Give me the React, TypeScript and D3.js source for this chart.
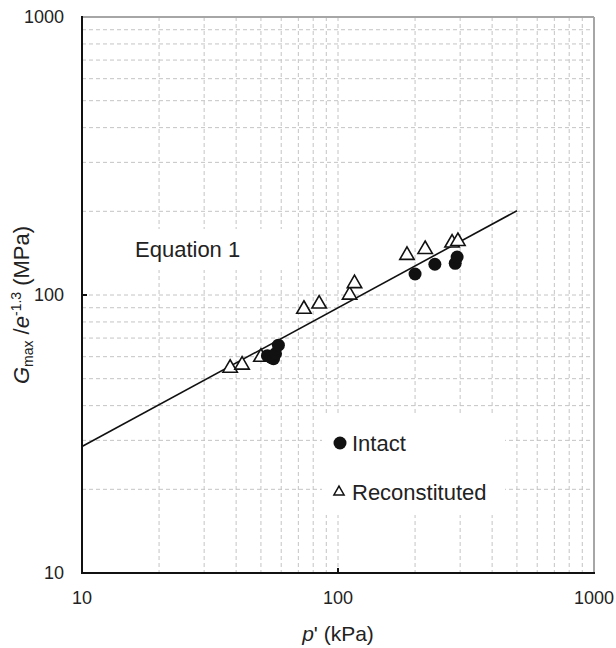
import * as d3 from 'd3';

// Intact specimens
const intactP = [53, 55, 56, 57, 58.5, 200, 239, 287, 292];
const intactG = [60.5, 59.5, 59, 61.5, 66, 119, 129, 130, 137];

// Reconstituted specimens
const reconP = [37.9, 42.2, 50, 73.6, 84.4, 111, 116, 186, 219, 279, 294];
const reconG = [54.6, 56, 59.8, 89, 92.9, 100, 110, 139, 146, 154, 156];

// Equation 1 line end points
const lineP = [10, 500];
const lineG = [28.5, 201];

const xTicks = [10, 100, 1000];
const yTicks = [10, 100, 1000];

export default function App() {
  const width = 616;
  const height = 648;
  const left = 82;
  const right = 594;
  const top = 17;
  const bottom = 573;

  const x = d3.scaleLog().domain([10, 1000]).range([left, right]);
  const y = d3.scaleLog().domain([10, 1000]).range([bottom, top]);

  const line = d3.line<number>()
    .x((d, i) => x(lineP[i]))
    .y(d => y(d));

  const tri = d3.symbol().type(d3.symbolTriangle).size(90)();
  const triSmall = d3.symbol().type(d3.symbolTriangle).size(45)();

  const grid = '#c4c4c4';
  const font = 'Liberation Sans, Arial, sans-serif';

  return (
    <svg width={width} height={height} style={{ position: 'absolute', left: 0, top: 0 }} fontFamily={font}>
      <rect width={width} height={height} fill="white" />
      {/* gridlines */}
      {x.ticks().filter(t => t > 10 && t < 1000).map(t => (
        <line key={'gx' + t} x1={x(t)} x2={x(t)} y1={top} y2={bottom} stroke={grid} strokeDasharray="4,3" strokeWidth={1} />
      ))}
      {y.ticks().filter(t => t > 10 && t < 1000).map(t => (
        <line key={'gy' + t} x1={left} x2={right} y1={y(t)} y2={y(t)} stroke={grid} strokeDasharray="4,3" strokeWidth={1} />
      ))}
      {/* label backgrounds */}
      <rect x={120} y={229} width={170} height={41} fill="white" />
      <rect x={322} y={413} width={183} height={102} fill="white" />

      {/* border */}
      <line x1={left} x2={right} y1={top} y2={top} stroke="#a6a6a6" strokeWidth={2} />
      <line x1={right} x2={right} y1={top} y2={bottom} stroke="#a6a6a6" strokeWidth={2} />
      <line x1={left} x2={left} y1={top - 1} y2={bottom + 1} stroke="#111" strokeWidth={2} />
      <line x1={left - 1} x2={right + 1} y1={bottom} y2={bottom} stroke="#111" strokeWidth={2} />
      {xTicks.filter(t => t > 10 && t < 1000).map(t => (
        <line key={'tx' + t} x1={x(t)} x2={x(t)} y1={bottom} y2={bottom - 5} stroke="#111" strokeWidth={2} />
      ))}
      {yTicks.filter(t => t > 10 && t < 1000).map(t => (
        <line key={'ty' + t} x1={left} x2={left + 5} y1={y(t)} y2={y(t)} stroke="#111" strokeWidth={2} />
      ))}

      {/* tick labels */}
      {xTicks.map(t => (
        <text key={'lx' + t} x={x(t)} y={598} textAnchor="middle" dominantBaseline="central" fontSize={18} fill="#222">{t}</text>
      ))}
      {yTicks.map(t => (
        <text key={'ly' + t} x={64} y={y(t)} textAnchor="end" dominantBaseline="central" fontSize={18} fill="#222">{t}</text>
      ))}

      {/* axis titles */}
      <text x={(left + right) / 2} y={641} textAnchor="middle" fontSize={21} fill="#222">
        <tspan fontStyle="italic">p</tspan>' (kPa)
      </text>
      <text transform="translate(29,305) rotate(-90)" textAnchor="middle" fontSize={22} fill="#222">
        <tspan fontStyle="italic">G</tspan>
        <tspan fontSize={14} dy={4}>max</tspan>
        <tspan dy={-4}> /</tspan>
        <tspan fontStyle="italic">e</tspan>
        <tspan fontSize={14} dy={-8}>-1.3</tspan>
        <tspan dy={8}> (MPa)</tspan>
      </text>

      {/* Equation 1 line */}
      <path d={line(lineG) ?? ''} fill="none" stroke="#111" strokeWidth={1.6} />
      <text x={135} y={257} fontSize={22} fill="#222">Equation 1</text>

      {/* points */}
      {reconP.map((p, i) => (
        <path key={'r' + i} d={tri ?? ''} transform={`translate(${x(p)},${y(reconG[i])})`} fill="white" stroke="#111" strokeWidth={1.6} />
      ))}
      {intactP.map((p, i) => (
        <circle key={'c' + i} cx={x(p)} cy={y(intactG[i])} r={6.5} fill="#111" />
      ))}

      {/* legend */}
      <circle cx={340} cy={443} r={6.5} fill="#111" />
      <text x={352} y={451} fontSize={22} fill="#222">Intact</text>
      <path d={triSmall ?? ''} transform="translate(339,492)" fill="white" stroke="#111" strokeWidth={1.5} />
      <text x={352} y={500} fontSize={22} fill="#222">Reconstituted</text>
    </svg>
  );
}
